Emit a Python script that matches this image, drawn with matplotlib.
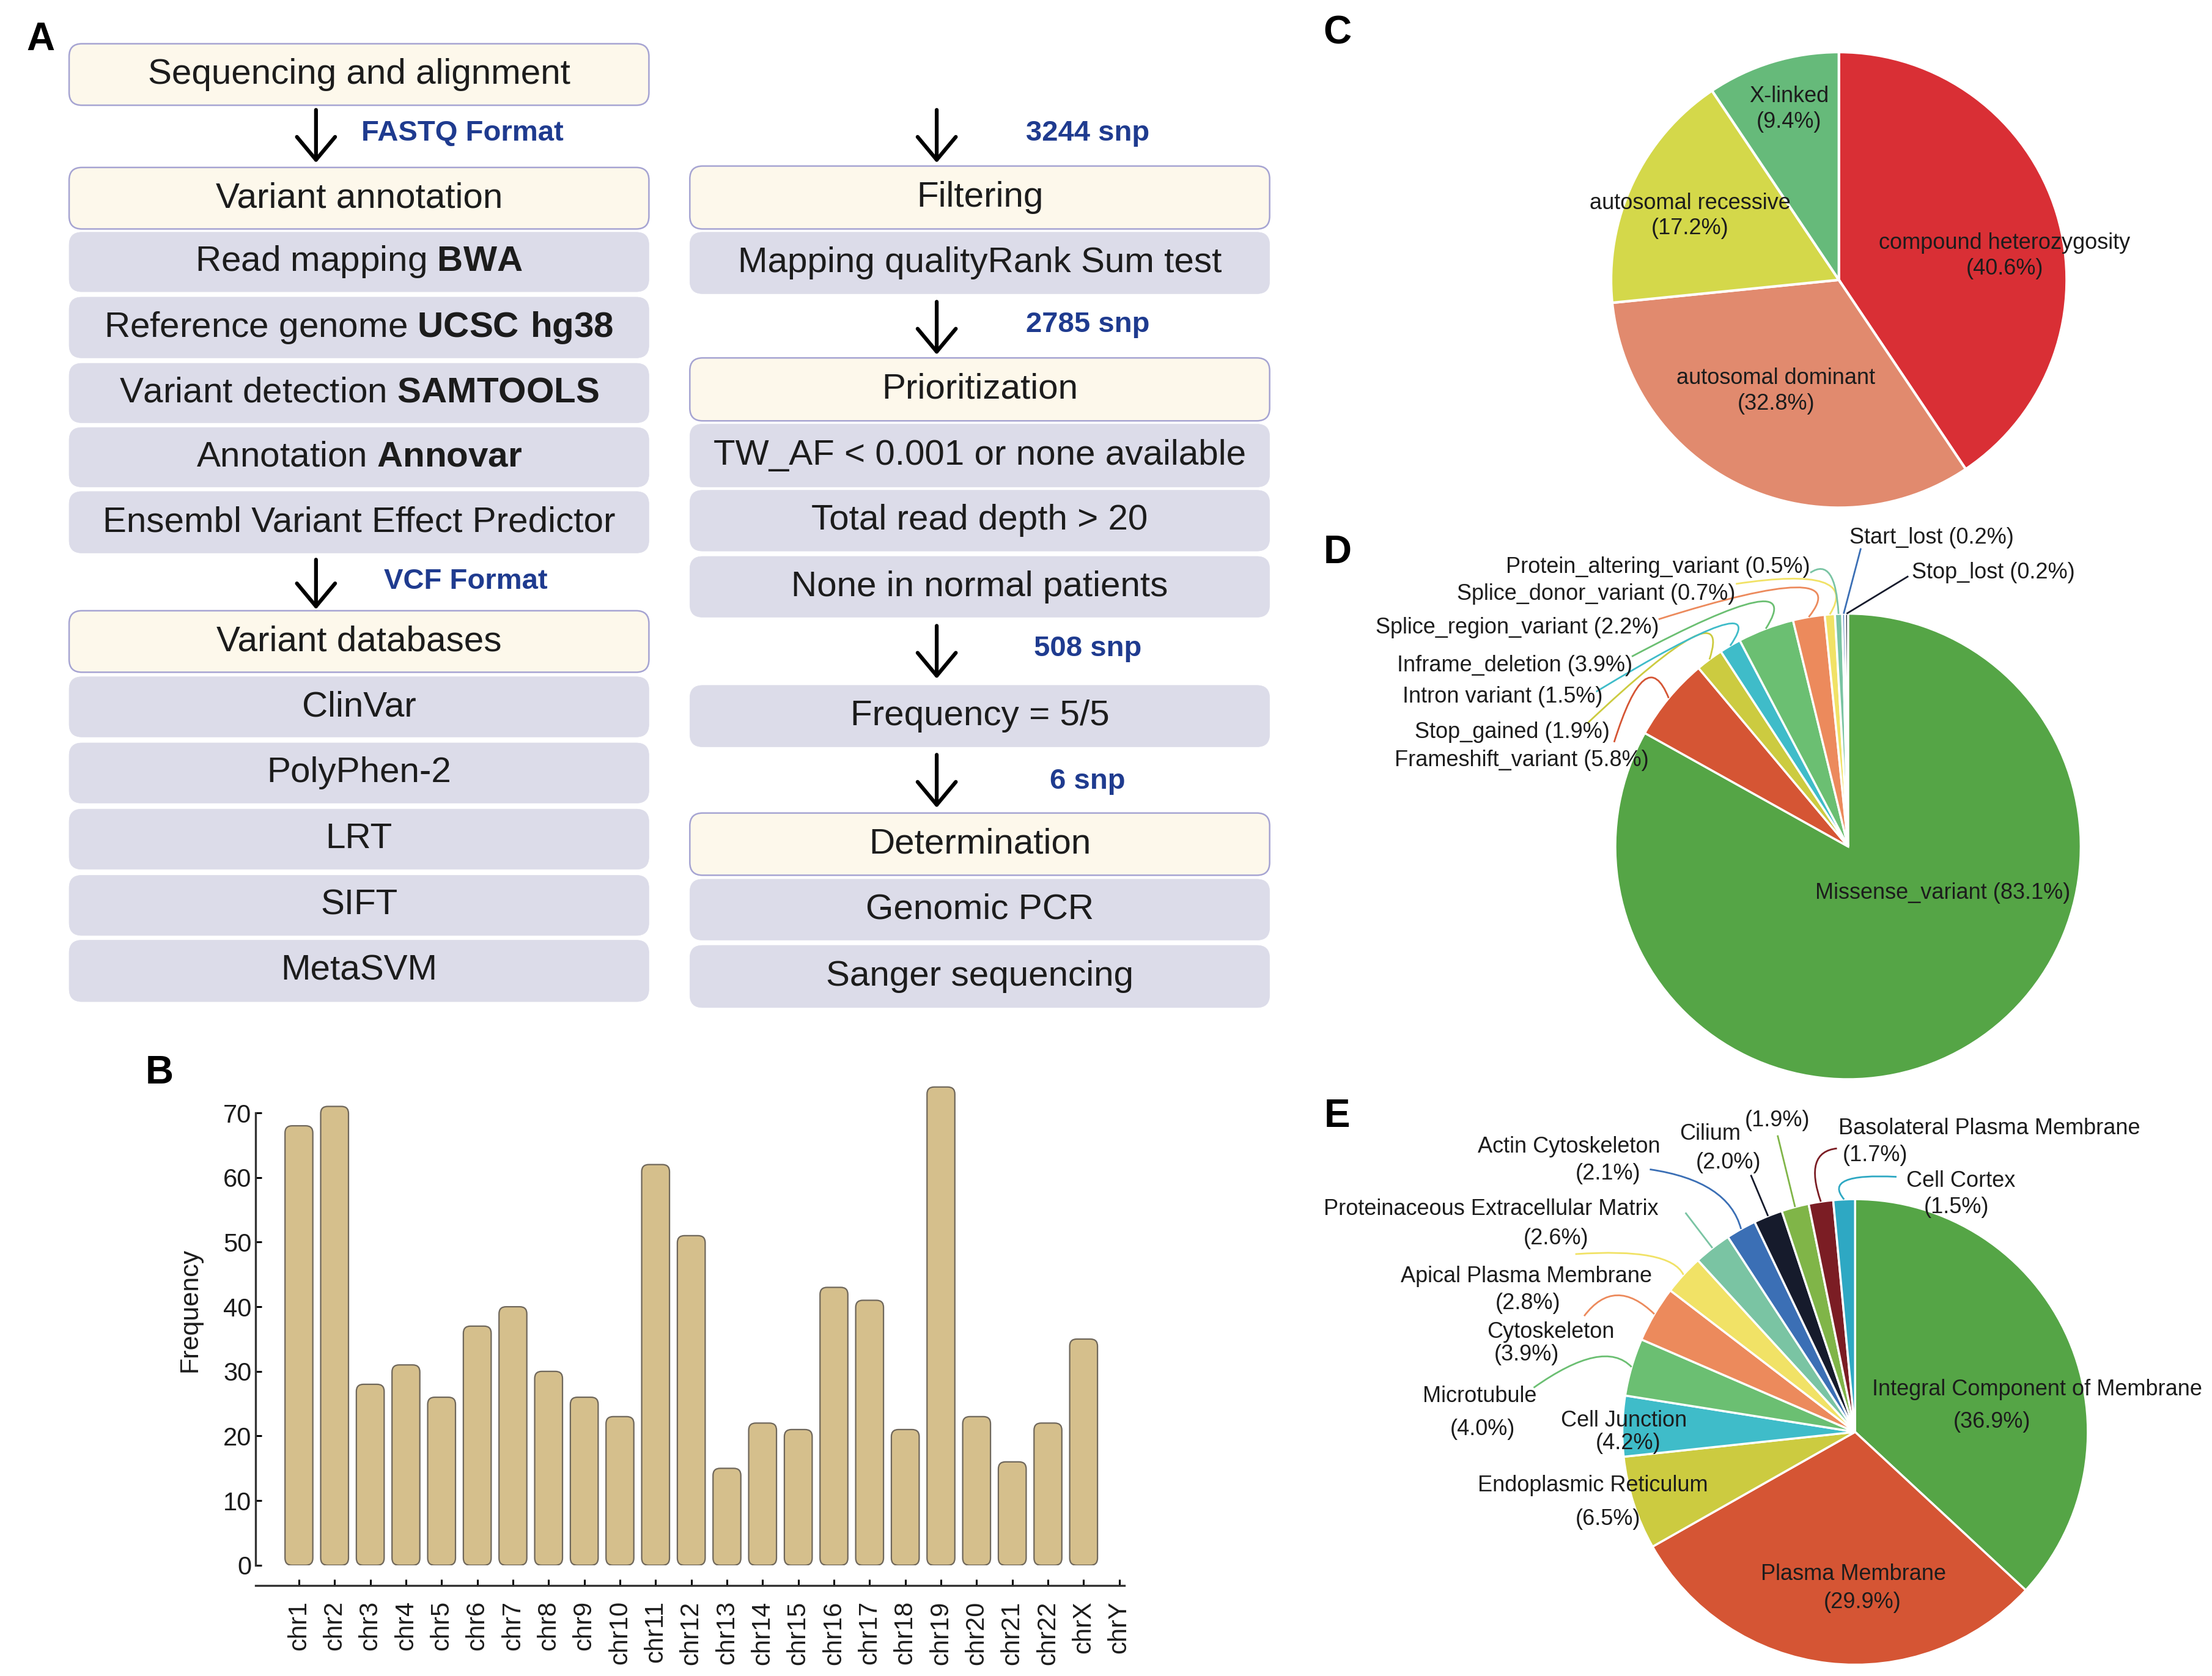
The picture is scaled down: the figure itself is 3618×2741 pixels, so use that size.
import numpy as np
import matplotlib
matplotlib.use('Agg')
import matplotlib.pyplot as plt
from matplotlib.patches import FancyBboxPatch, PathPatch
from matplotlib.path import Path

plt.rcParams['font.family'] = ['Liberation Sans', 'DejaVu Sans']
plt.rcParams['mathtext.fontset'] = 'custom'
plt.rcParams['mathtext.rm'] = 'Liberation Sans'
plt.rcParams['mathtext.bf'] = 'Liberation Sans:bold'

## data ----------------------------------------------------------------------
# A: analysis pipeline
left_steps = ['Sequencing and alignment', 'Variant annotation',
              r'Read mapping $\mathbf{BWA}$',
              r'Reference genome $\mathbf{UCSC\ hg38}$',
              r'Variant detection $\mathbf{SAMTOOLS}$',
              r'Annotation $\mathbf{Annovar}$',
              'Ensembl Variant Effect Predictor', 'Variant databases',
              'ClinVar', 'PolyPhen-2', 'LRT', 'SIFT', 'MetaSVM']
left_header = [1, 1, 0, 0, 0, 0, 0, 1, 0, 0, 0, 0, 0]
right_steps = ['Filtering', 'Mapping qualityRank Sum test', 'Prioritization',
               'TW_AF < 0.001 or none available', 'Total read depth > 20',
               'None in normal patients', 'Frequency = 5/5', 'Determination',
               'Genomic PCR', 'Sanger sequencing']
right_header = [1, 0, 1, 0, 0, 0, 0, 1, 0, 0]
left_notes = ['FASTQ Format', 'VCF Format']
right_notes = ['3244 snp', '2785 snp', '508 snp', '6 snp']

# B: variants per chromosome
chroms = ['chr1', 'chr2', 'chr3', 'chr4', 'chr5', 'chr6', 'chr7', 'chr8',
          'chr9', 'chr10', 'chr11', 'chr12', 'chr13', 'chr14', 'chr15',
          'chr16', 'chr17', 'chr18', 'chr19', 'chr20', 'chr21', 'chr22',
          'chrX', 'chrY']
chrom_freq = [68, 71, 28, 31, 26, 37, 40, 30, 26, 23, 62, 51, 15, 22, 21,
              43, 41, 21, 74, 23, 16, 22, 35, 0]

# C: inheritance mode (clockwise from 12 o'clock)
inherit_names = ['compound heterozygosity', 'autosomal dominant',
                 'autosomal recessive', 'X-linked']
inherit_pct = [40.6, 32.8, 17.2, 9.4]

# D: variant consequence (clockwise from 12 o'clock)
variant_names = ['Missense_variant', 'Frameshift_variant', 'Stop_gained',
                 'Intron variant', 'Inframe_deletion', 'Splice_region_variant',
                 'Splice_donor_variant', 'Protein_altering_variant',
                 'Start_lost', 'Stop_lost']
variant_pct = [83.1, 5.8, 1.9, 1.5, 3.9, 2.2, 0.7, 0.5, 0.2, 0.2]

# E: cellular component (clockwise from 12 o'clock)
cc_names = ['Integral Component of Membrane', 'Plasma Membrane',
            'Endoplasmic Reticulum', 'Cell Junction', 'Microtubule',
            'Cytoskeleton', 'Apical Plasma Membrane',
            'Proteinaceous Extracellular Matrix', 'Actin Cytoskeleton',
            'Cilium', '', 'Basolateral Plasma Membrane', 'Cell Cortex']
cc_pct = [36.9, 29.9, 6.5, 4.2, 4.0, 3.9, 2.8, 2.6, 2.1, 2.0, 1.9, 1.7, 1.5]

## layout / style ------------------------------------------------------------
# positions are on a 1568 x 1188 grid (the reference at reduced scale)
W, H = 1568.0, 1188.0
FIG_W, FIG_H = 3618, 2741
TXT = '#1c1c1c'
NAVY = '#1f3b8f'

left_x = (49, 460)
right_x = (489, 900)
left_rows = [(31, 74.6), (118.7, 162.3), (164.6, 206.8), (210.6, 253.7),
             (257.5, 299.7), (303, 345.2), (348.4, 392), (432.9, 476.5),
             (479.7, 522.4), (526.6, 569.3), (573.5, 616.2), (620.4, 663.1),
             (666.4, 710)]
right_rows = [(117.7, 162.3), (164.6, 208.2), (253.7, 298.3), (300.6, 345.2),
              (347.5, 390.6), (394.4, 437.5), (485.8, 529.4), (576.3, 620.4),
              (623.2, 666.4), (670.1, 714.2)]
left_arrows = [(77.9, 115.4), (396.7, 431.9)]
right_arrows = [(77.9, 115.4), (213.9, 251.4), (443.6, 481.1), (535, 572.6)]
left_note_xy = [(328, 94.3), (330, 412.2)]
right_note_xy = [(771, 94.3), (771, 230.3), (771, 460), (771, 553.8)]

pal = {'green': '#55a546', 'red': '#d55534', 'olive': '#cccb40',
       'teal': '#3fbcc9', 'lgreen': '#6bbf72', 'orange': '#ec8a5c',
       'yellow': '#f1e266', 'mint': '#7ac4a3', 'blue': '#3b6fb5',
       'black': '#161b2c', 'ygreen': '#80b548', 'dred': '#7b1d24',
       'cyan': '#2ea8c3'}

fig = plt.figure(figsize=(FIG_W / 100, FIG_H / 100), dpi=100)


def frac(x0, y0, x1, y1):
    return [x0 / W, 1 - y1 / H, (x1 - x0) / W, (y1 - y0) / H]


ax0 = fig.add_axes([0, 0, 1, 1])
ax0.set_xlim(0, W)
ax0.set_ylim(H, 0)
ax0.axis('off')


## A: flowchart ---------------------------------------------------------------
def draw_box(xs, ys, text, header):
    if header:
        fc, ec, lw = '#fdf8eb', '#a6a4d2', 1.8
    else:
        fc, ec, lw = '#dcdce9', '#dcdce9', 0.5
    ax0.add_patch(FancyBboxPatch((xs[0], ys[0]), xs[1] - xs[0], ys[1] - ys[0],
                                 boxstyle='round,pad=0,rounding_size=9',
                                 fc=fc, ec=ec, lw=lw))
    ax0.text((xs[0] + xs[1]) / 2, (ys[0] + ys[1]) / 2, text, ha='center',
             va='center', fontsize=42, color=TXT)


def draw_arrow(x, ys):
    ax0.annotate('', xy=(x, ys[1]), xytext=(x, ys[0]),
                 arrowprops=dict(arrowstyle='->,head_length=0.6,head_width=0.5',
                                 lw=4.5, color='black', mutation_scale=45,
                                 shrinkA=0, shrinkB=0))


for text, hdr, ys in zip(left_steps, left_header, left_rows):
    draw_box(left_x, ys, text, hdr)
for text, hdr, ys in zip(right_steps, right_header, right_rows):
    draw_box(right_x, ys, text, hdr)
for ys in left_arrows:
    draw_arrow(224, ys)
for ys in right_arrows:
    draw_arrow(664, ys)
for note, (x, y) in zip(left_notes + right_notes, left_note_xy + right_note_xy):
    ax0.text(x, y, note, ha='center', va='center', fontsize=34,
             fontweight='bold', color=NAVY)

# panel letters
for letter, (x, y) in zip('ABCDE', [(29, 35.5), (113, 768), (948, 31),
                                    (948, 399), (948, 799)]):
    ax0.text(x, y, letter, ha='center', va='baseline', fontsize=46,
             fontweight='bold', color='black')

## B: bar chart ---------------------------------------------------------------
y0_px, per_unit, ytop = 1109.5, 4.581, 76
ax_b = fig.add_axes(frac(181.3, y0_px - ytop * per_unit, 797.2, y0_px))
xmin, xmax = -1.21, 23.15
ax_b.set_xlim(xmin, xmax)
ax_b.set_ylim(0, ytop)
xpos = np.arange(len(chroms))
bars = ax_b.bar(xpos, chrom_freq, width=0.78)

bb = ax_b.get_position()
asp = (bb.width * FIG_W / (xmax - xmin)) / (bb.height * FIG_H / ytop)
for rect in bars:
    h = rect.get_height()
    rect.set_visible(False)
    if h <= 0:
        continue
    ax_b.add_patch(FancyBboxPatch((rect.get_x(), 0), rect.get_width(), h,
                                  boxstyle='round,pad=0,rounding_size=0.2',
                                  mutation_aspect=asp, fc='#d5bf8c',
                                  ec='#6f675b', lw=1.6))

ax_b.set_xticks(xpos, chroms)
ax_b.set_yticks(range(0, 71, 10))
ax_b.tick_params(axis='y', direction='in', length=7, width=2.2, pad=5,
                 labelsize=30, labelcolor=TXT)
ax_b.tick_params(axis='x', direction='in', length=7, width=2.2, pad=18,
                 labelsize=30, labelcolor=TXT, labelrotation=90)
for side in ['top', 'right']:
    ax_b.spines[side].set_visible(False)
ax_b.spines['left'].set_bounds(0, 70)
ax_b.spines['bottom'].set_position(('outward', 24))
for side in ['left', 'bottom']:
    ax_b.spines[side].set_linewidth(2.4)
    ax_b.spines[side].set_color('#333333')
ax_b.set_ylabel('Frequency', fontsize=31, color=TXT)
ax_b.yaxis.set_label_coords(-0.062, 0.52)
ax_b.patch.set_visible(False)


## pies -----------------------------------------------------------------------
def draw_pie(cx, cy, r, values, colors, lw):
    h = r * 1.05
    ax = fig.add_axes(frac(cx - h, cy - h, cx + h, cy + h))
    wedges, _ = ax.pie(values, colors=colors, startangle=90, counterclock=False,
                       wedgeprops=dict(edgecolor='white', linewidth=lw))
    ax.set_xlim(-1.05, 1.05)
    ax.set_ylim(-1.05, 1.05)
    ax.set_aspect('equal')
    ax.axis('off')
    return ax, wedges


def wedge_tip(w, rr=1.0):
    a = np.deg2rad((w.theta1 + w.theta2) / 2)
    return np.array([rr * np.cos(a), rr * np.sin(a)])


def leader(ax, a, b, knee, color):
    a = np.asarray(a, float)
    b = np.asarray(b, float)
    if knee is None:
        path = Path([a, b], [Path.MOVETO, Path.LINETO])
    else:
        c = 2 * np.asarray(knee, float) - (a + b) / 2
        path = Path([a, c, b], [Path.MOVETO, Path.CURVE3, Path.CURVE3])
    ax.add_patch(PathPatch(path, fc='none', ec=color, lw=2.0, clip_on=False))


# C
inherit_colors = ['#d92f35', '#e18a6e', '#d4d84a', '#66ba7a']
inherit_xy = [(0.728, 0.106), (-0.276, -0.487), (-0.653, 0.281), (-0.218, 0.749)]
ax_c, _ = draw_pie(1303.5, 198.4, 161.5, inherit_pct, inherit_colors, 3)
for name, pct, (x, y) in zip(inherit_names, inherit_pct, inherit_xy):
    ax_c.text(x, y, f'{name}\n({pct}%)', ha='center', va='center',
              fontsize=26, color=TXT, linespacing=1.25)

# D
variant_colors = [pal['green'], pal['red'], pal['olive'], pal['teal'],
                  pal['lgreen'], pal['orange'], pal['yellow'], pal['mint'],
                  pal['blue'], pal['black']]
variant_txt = [(0.406, -0.2, 'center'), (-0.855, 0.370, 'right'),
               (-1.024, 0.491, 'right'), (-1.055, 0.642, 'right'),
               (-0.927, 0.776, 'right'), (-0.812, 0.939, 'right'),
               (-0.485, 1.085, 'right'), (-0.164, 1.200, 'right'),
               (0.006, 1.327, 'left'), (0.273, 1.176, 'left')]
variant_lead = [None,
                ((-1.005, 0.448), (-0.878, 0.713)),
                ((-1.121, 0.528), (-0.673, 0.896)),
                ((-1.082, 0.665), (-0.558, 0.945)),
                ((-0.929, 0.816), (-0.405, 1.048)),
                ((-0.814, 0.976), (-0.226, 1.113)),
                ((-0.482, 1.128), (-0.111, 1.136)),
                ((-0.162, 1.176), (-0.078, 1.168)),
                ((0.055, 1.281), None),
                ((0.259, 1.161), None)]
ax_d, wd = draw_pie(1310, 600, 165, variant_pct, variant_colors, 2.5)
for name, pct, (x, y, ha), w, ld, col in zip(variant_names, variant_pct,
                                             variant_txt, wd, variant_lead,
                                             variant_colors):
    ax_d.text(x, y, f'{name} ({pct}%)', ha=ha, va='center', fontsize=26,
              color=TXT)
    if ld is not None:
        leader(ax_d, ld[0], wedge_tip(w), ld[1], col)

# E
cc_colors = [pal['green'], pal['red'], pal['olive'], pal['teal'],
             pal['lgreen'], pal['orange'], pal['yellow'], pal['mint'],
             pal['blue'], pal['black'], pal['ygreen'], pal['dred'], pal['cyan']]
cc_name_xy = [(0.782, 0.182), (-0.006, -0.612), (-1.127, -0.230),
              (-0.994, 0.048), (-1.612, 0.152), (-1.309, 0.430),
              (-1.412, 0.667), (-1.564, 0.958), (-1.230, 1.224),
              (-0.624, 1.279), None, (0.576, 1.303), (0.455, 1.079)]
cc_pct_xy = [(0.588, 0.042), (0.030, -0.733), (-1.061, -0.376),
             (-0.976, -0.048), (-1.600, 0.012), (-1.412, 0.333),
             (-1.406, 0.552), (-1.285, 0.830), (-1.061, 1.109),
             (-0.545, 1.158), (-0.333, 1.339), (0.085, 1.188), (0.436, 0.964)]
cc_lead = [None, None, None, None,
           ((-1.381, 0.190), (-1.125, 0.319)),
           ((-1.164, 0.498), (-1.023, 0.587)),
           ((-1.202, 0.764), (-0.882, 0.756)),
           ((-0.729, 0.942), None),
           ((-0.882, 1.128), (-0.615, 1.039)),
           ((-0.448, 1.104), None),
           ((-0.333, 1.274), None),
           ((-0.078, 1.218), (-0.167, 1.153)),
           ((0.178, 1.096), (-0.039, 1.080))]
ax_e, we = draw_pie(1315, 1015, 165, cc_pct, cc_colors, 2.5)
for name, pct, nxy, pxy, w, ld, col in zip(cc_names, cc_pct, cc_name_xy,
                                           cc_pct_xy, we, cc_lead, cc_colors):
    if ld is not None:
        leader(ax_e, ld[0], wedge_tip(w), ld[1], col)
    if nxy is not None:
        ax_e.text(nxy[0], nxy[1], name, ha='center', va='center', fontsize=26,
                  color=TXT)
    ax_e.text(pxy[0], pxy[1], f'({pct}%)', ha='center', va='center',
              fontsize=26, color=TXT)

fig.savefig('out.png', dpi=100, facecolor='white')
